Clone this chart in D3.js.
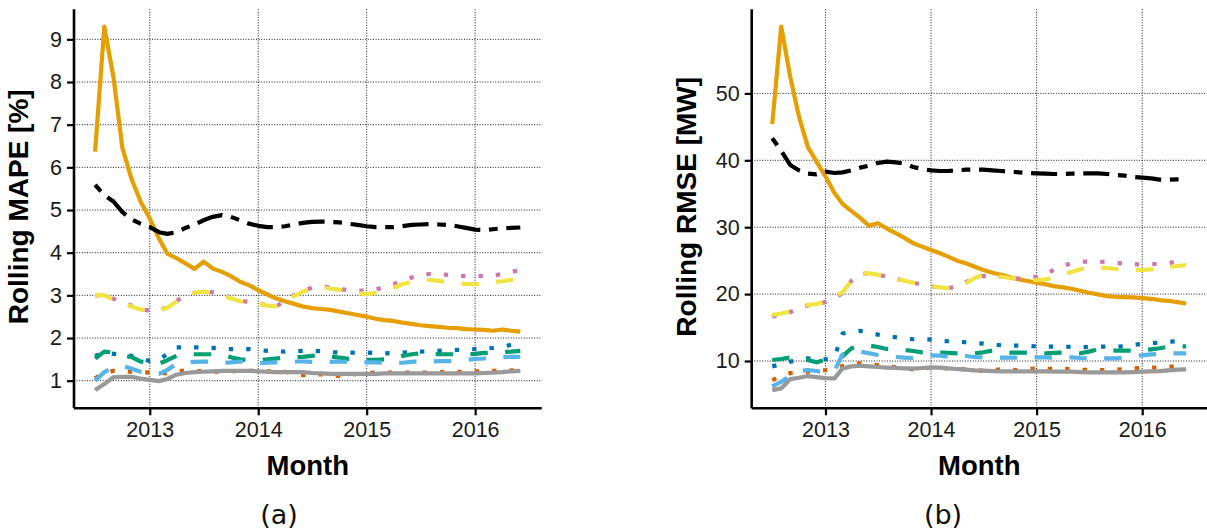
<!DOCTYPE html>
<html><head><meta charset="utf-8">
<script src="https://cdn.jsdelivr.net/npm/d3@7"></script>
<style>html,body{margin:0;padding:0;background:#fff;}svg{display:block;}</style>
</head><body>
<svg id="c" width="1207" height="532"></svg>
<script>
// ---------- DATA ----------
const xTickYears = [2013, 2014, 2015, 2016];
const mapeTicks = [1,2,3,4,5,6,7,8,9];
const rmseTicks = [10,20,30,40,50];
const seriesNames = ["orange","black","pink","yellow","blue","vermillion","green","skyblue","grey"];

const mapeOrange = [6.37,9.30,8.1,6.45,5.72,5.2,4.8,4.33,3.98,3.87,3.75,3.62,3.79,3.63,3.55,3.45,3.32,3.24,3.12,3.02,2.93,2.86,2.80,2.74,2.70,2.68,2.66,2.62,2.58,2.54,2.50,2.45,2.42,2.40,2.36,2.33,2.30,2.28,2.26,2.24,2.23,2.21,2.20,2.19,2.17,2.20,2.17,2.15];
const mapeBlack = [5.59,5.35,5.2,4.95,4.78,4.68,4.60,4.48,4.44,4.48,4.58,4.66,4.76,4.84,4.88,4.84,4.76,4.68,4.63,4.60,4.60,4.62,4.66,4.70,4.72,4.73,4.72,4.71,4.68,4.65,4.62,4.60,4.60,4.60,4.62,4.65,4.66,4.67,4.66,4.65,4.62,4.58,4.54,4.53,4.55,4.57,4.58,4.59];
const mapePink = [3.0,3.0,2.92,2.82,2.76,2.68,2.64,2.65,2.72,2.87,3.00,3.06,3.09,3.07,3.02,2.95,2.88,2.84,2.82,2.76,2.74,2.86,3.00,3.10,3.18,3.21,3.19,3.15,3.12,3.11,3.11,3.14,3.19,3.26,3.34,3.42,3.48,3.50,3.50,3.48,3.46,3.45,3.45,3.46,3.46,3.50,3.56,3.58];
const mapeYellow = [3.01,3.00,2.90,2.80,2.74,2.67,2.64,2.65,2.71,2.85,3.00,3.06,3.09,3.05,3.00,2.93,2.86,2.83,2.81,2.76,2.74,2.85,2.98,3.09,3.15,3.19,3.16,3.13,3.08,3.05,3.03,3.06,3.13,3.18,3.26,3.32,3.36,3.36,3.34,3.31,3.28,3.27,3.26,3.28,3.31,3.33,3.36,3.38];
const mapeBlue = [1.58,1.66,1.63,1.60,1.58,1.52,1.46,1.50,1.62,1.78,1.78,1.78,1.78,1.77,1.75,1.74,1.74,1.74,1.72,1.70,1.69,1.68,1.69,1.70,1.70,1.69,1.67,1.66,1.66,1.66,1.66,1.65,1.64,1.65,1.66,1.67,1.68,1.69,1.70,1.71,1.72,1.73,1.74,1.75,1.77,1.80,1.84,1.86];
const mapeVermillion = [1.05,1.20,1.23,1.22,1.21,1.20,1.19,1.18,1.17,1.22,1.24,1.23,1.22,1.21,1.21,1.22,1.23,1.23,1.23,1.22,1.22,1.21,1.17,1.13,1.14,1.15,1.13,1.11,1.13,1.16,1.18,1.19,1.19,1.19,1.19,1.19,1.19,1.19,1.20,1.20,1.21,1.21,1.22,1.22,1.23,1.23,1.24,1.25];
const mapeGreen = [1.52,1.68,1.66,1.60,1.55,1.45,1.42,1.40,1.48,1.58,1.62,1.62,1.62,1.62,1.60,1.55,1.50,1.48,1.49,1.50,1.52,1.54,1.55,1.56,1.58,1.60,1.57,1.54,1.51,1.50,1.49,1.49,1.50,1.52,1.58,1.62,1.64,1.63,1.62,1.62,1.62,1.62,1.63,1.65,1.66,1.67,1.68,1.70];
const mapeSkyblue = [1.00,1.20,1.32,1.35,1.28,1.21,1.18,1.16,1.25,1.40,1.43,1.44,1.45,1.44,1.42,1.43,1.45,1.42,1.41,1.42,1.43,1.44,1.45,1.45,1.44,1.43,1.44,1.45,1.44,1.43,1.43,1.43,1.42,1.41,1.42,1.44,1.45,1.45,1.46,1.46,1.47,1.49,1.51,1.52,1.54,1.55,1.56,1.56];
const mapeGrey = [0.78,0.92,1.08,1.09,1.09,1.05,1.02,0.99,1.04,1.14,1.18,1.20,1.21,1.22,1.23,1.23,1.23,1.23,1.22,1.21,1.20,1.20,1.20,1.20,1.18,1.17,1.16,1.16,1.16,1.16,1.16,1.16,1.17,1.17,1.17,1.17,1.17,1.17,1.17,1.17,1.17,1.17,1.17,1.18,1.19,1.20,1.22,1.23];

const rmseOrange = [45.4,60.0,52.5,46.6,42.0,39.8,37.6,35.1,33.5,32.4,31.4,30.2,30.6,29.8,29.1,28.4,27.6,27.1,26.6,26.1,25.6,25.0,24.6,24.1,23.6,23.2,22.9,22.5,22.2,21.95,21.7,21.45,21.2,21.0,20.8,20.5,20.2,19.95,19.7,19.6,19.55,19.5,19.4,19.3,19.1,19.0,18.8,18.6];
const rmseBlack = [43.3,41.4,39.3,38.5,38.0,37.9,38.3,38.1,38.2,38.5,38.9,39.2,39.6,39.8,39.7,39.5,39.0,38.7,38.5,38.4,38.4,38.5,38.6,38.6,38.6,38.5,38.4,38.3,38.2,38.1,38.05,38.0,37.95,37.95,38.0,38.05,38.05,38.05,37.95,37.8,37.7,37.5,37.4,37.3,37.1,37.1,37.15,37.15];
const rmsePink = [16.6,17.0,17.3,17.9,18.3,18.5,18.8,19.3,20.2,22.0,23.0,23.1,22.9,22.6,22.3,22.0,21.7,21.4,21.2,20.95,20.9,21.1,21.8,22.4,22.7,22.7,22.6,22.4,22.3,22.4,22.6,23.0,23.6,24.2,24.6,24.85,24.85,24.85,24.8,24.65,24.55,24.45,24.45,24.5,24.5,24.6,24.9,25.3];
const rmseYellow = [16.9,17.1,17.4,18.0,18.4,18.5,18.9,19.6,20.3,22.0,23.1,23.1,22.9,22.6,22.3,22.0,21.7,21.45,21.2,21.0,20.9,21.0,21.6,22.4,22.9,22.8,22.6,22.4,22.3,22.2,22.1,22.2,22.5,22.9,23.3,23.7,24.0,24.0,23.9,23.75,23.6,23.6,23.6,23.7,23.9,24.0,24.2,24.35];
const rmseBlue = [9.2,9.5,9.9,10.2,10.4,10.3,10.25,10.6,14.1,14.4,14.5,14.2,13.95,13.7,13.55,13.35,13.25,13.25,13.2,13.0,12.95,12.9,12.8,12.7,12.6,12.45,12.35,12.3,12.3,12.25,12.2,12.15,12.15,12.15,12.1,12.05,12.1,12.15,12.15,12.15,12.2,12.4,12.55,12.65,12.75,12.9,12.95,13.0];
const rmseVermillion = [7.15,7.7,8.2,8.3,8.4,8.5,8.65,8.9,9.25,9.5,9.65,9.5,9.4,9.2,9.05,8.9,8.75,8.9,9.0,8.95,8.9,8.8,8.75,8.6,8.55,8.65,8.75,8.7,8.65,8.8,8.9,8.85,8.8,8.8,8.8,8.7,8.65,8.65,8.65,8.7,8.8,8.9,8.95,9.0,9.05,9.15,9.15,9.2];
const rmseGreen = [10.15,10.3,10.55,10.0,10.15,9.8,10.2,10.4,10.7,11.9,12.3,12.3,12.1,11.8,11.7,11.65,11.5,11.3,11.25,11.25,11.2,11.15,11.15,11.15,11.3,11.55,11.4,11.25,11.25,11.25,11.2,11.15,11.2,11.25,11.2,11.15,11.4,11.75,11.65,11.55,11.55,11.55,11.6,11.75,11.9,12.15,12.2,12.2];
const rmseSkyblue = [6.2,6.9,7.8,8.5,8.65,8.5,8.3,8.5,11.0,11.3,11.4,11.15,10.9,10.75,10.6,10.5,10.45,10.6,10.85,10.8,10.65,10.7,10.75,10.6,10.55,10.5,10.5,10.5,10.5,10.55,10.55,10.55,10.5,10.55,10.55,10.45,10.4,10.4,10.4,10.4,10.5,10.7,10.85,11.0,11.05,11.1,11.15,11.15];
const rmseGrey = [5.65,5.9,7.3,7.5,7.75,7.6,7.45,7.4,8.9,9.2,9.3,9.2,9.1,9.0,8.95,8.9,8.85,8.95,9.05,9.0,8.9,8.8,8.7,8.6,8.55,8.5,8.45,8.45,8.45,8.45,8.45,8.45,8.4,8.4,8.4,8.35,8.3,8.3,8.3,8.3,8.3,8.35,8.4,8.45,8.5,8.6,8.7,8.75];

// ---------- STYLE ----------
const U = 4.35;
const styles = {
  orange:    {color:"#E69F00", dash:null},
  black:     {color:"#000000", dash:[2,2,6,2]},
  pink:      {color:"#CC79A7", dash:[1,3]},
  yellow:    {color:"#F0E442", dash:[4,4]},
  blue:      {color:"#0072B2", dash:[1,3]},
  vermillion:{color:"#D55E00", dash:[1,3]},
  green:     {color:"#009E73", dash:[4,4]},
  skyblue:   {color:"#56B4E9", dash:[4,4]},
  grey:      {color:"#999999", dash:null}
};

const months = d3.timeMonth.range(new Date(2012,6,1), new Date(2016,6,1));
const xDomain = [new Date(2012,3,21), new Date(2016,7,12)];

const svg = d3.select("#c");
const tickFont = "'Liberation Sans', Arial, sans-serif";

function panel(cfg){
  const {x0,x1,y0,y1,yDomain,yTicks,data,ylabel,ylabelX,caption,captionX} = cfg;
  const x = d3.scaleTime().domain(xDomain).range([x0,x1]);
  const y = d3.scaleLinear().domain(yDomain).range([y1,y0]);
  const g = svg.append("g");
  const xt = xTickYears.map(yr=>new Date(yr,0,1));
  // grid
  g.append("g").selectAll("line.v").data(xt).join("line")
    .attr("x1",d=>x(d)).attr("x2",d=>x(d)).attr("y1",y0).attr("y2",y1)
    .attr("stroke","#000").attr("stroke-width",0.9).attr("stroke-dasharray","1,1.6");
  g.append("g").selectAll("line.h").data(yTicks).join("line")
    .attr("x1",x0).attr("x2",x1).attr("y1",d=>y(d)).attr("y2",d=>y(d))
    .attr("stroke","#000").attr("stroke-width",0.9).attr("stroke-dasharray","1,1.6");
  // lines
  const line = d3.line().x((d,i)=>x(months[i])).y(d=>y(d)).curve(d3.curveLinear);
  seriesNames.forEach(n=>{
    const s = styles[n];
    g.append("path").datum(data[n]).attr("d",line)
      .attr("fill","none").attr("stroke",s.color).attr("stroke-width",4.2)
      .attr("stroke-linejoin","round").attr("stroke-linecap","butt")
      .attr("stroke-dasharray", s.dash ? s.dash.map(v=>v*U).join(",") : null);
  });
  // axes
  const ax = g.append("g").attr("transform",`translate(0,${y1})`)
    .call(d3.axisBottom(x).tickValues(xt).tickFormat(d3.timeFormat("%Y")).tickSize(7).tickPadding(6));
  const ay = g.append("g").attr("transform",`translate(${x0},0)`)
    .call(d3.axisLeft(y).tickValues(yTicks).tickSize(7).tickPadding(5));
  [ax,ay].forEach(a=>{
    a.select(".domain").attr("stroke","#000").attr("stroke-width",2.6);
    a.selectAll(".tick line").attr("stroke","#000").attr("stroke-width",2.2);
    a.selectAll("text").attr("font-family",tickFont).attr("font-size","21.5px").attr("fill","#1a1a1a");
  });
  ax.select(".domain").attr("d",`M${x0},0H${x1}`);
  ay.select(".domain").attr("d",`M0,${y0}V${y1}`);
  // titles
  g.append("text").attr("x",(x0+x1)/2).attr("y",475).attr("text-anchor","middle")
    .attr("font-family",tickFont).attr("font-weight","bold").attr("font-size","27.5px").text("Month");
  g.append("text").attr("transform",`translate(${ylabelX},${(y0+y1)/2 - 2}) rotate(-90)`)
    .attr("text-anchor","middle").attr("font-family",tickFont).attr("font-weight","bold")
    .attr("font-size","28px").text(ylabel);
  g.append("text").attr("x",captionX).attr("y",524).attr("text-anchor","middle")
    .attr("font-family","'DejaVu Sans', sans-serif").attr("font-size","27px").attr("fill","#111").text(caption);
}

panel({x0:74,x1:541.7,y0:9.3,y1:408.3,yDomain:[0.353,9.704],yTicks:mapeTicks,
  data:{orange:mapeOrange,black:mapeBlack,pink:mapePink,yellow:mapeYellow,blue:mapeBlue,vermillion:mapeVermillion,green:mapeGreen,skyblue:mapeSkyblue,grey:mapeGrey},
  ylabel:"Rolling MAPE [%]",ylabelX:28,caption:"(a)",captionX:279});
panel({x0:751.7,x1:1207,y0:9.3,y1:408.3,yDomain:[2.93,62.57],yTicks:rmseTicks,
  data:{orange:rmseOrange,black:rmseBlack,pink:rmsePink,yellow:rmseYellow,blue:rmseBlue,vermillion:rmseVermillion,green:rmseGreen,skyblue:rmseSkyblue,grey:rmseGrey},
  ylabel:"Rolling RMSE [MW]",ylabelX:696,caption:"(b)",captionX:943});
</script>
</body></html>
